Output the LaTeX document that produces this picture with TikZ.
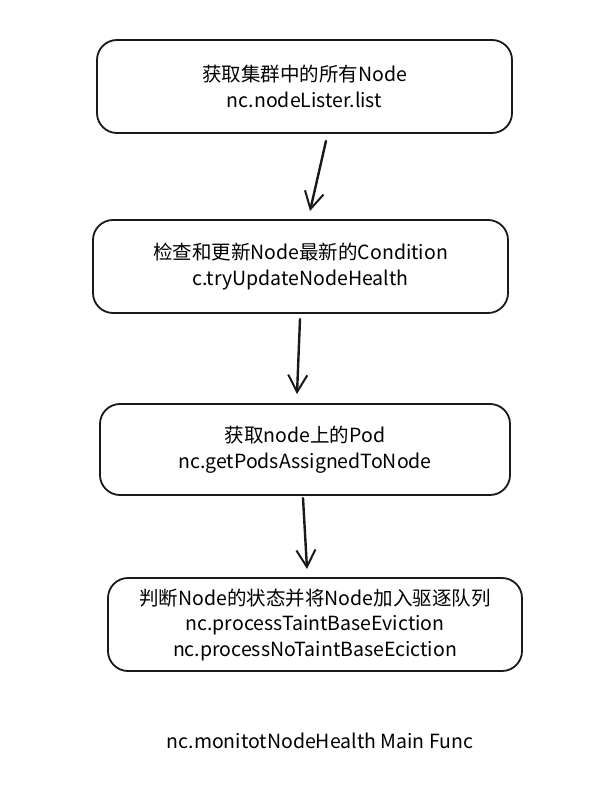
\documentclass[tikz,border=0pt]{standalone}
\usepackage{fontspec}
\setmainfont{Noto Sans CJK SC}
\usetikzlibrary{arrows.meta}
\tikzset{
  procbox/.style={draw=black!90, line width=1.8pt, rounded corners=20pt, fill=white,
    minimum width=#1, minimum height=93pt, align=center, inner sep=0pt,
    font=\fontsize{19.5}{25.5}\selectfont},
  flow/.style={draw=black!90, line width=2.4pt, line cap=round,
    -{Straight Barb[length=17pt,width=19pt,line width=2pt]}},
  caption/.style={font=\fontsize{19.5}{22}\selectfont}
}
\begin{document}
\begin{tikzpicture}[x=1pt,y=-1pt]
\useasboundingbox[fill=white] (0,0) rectangle (594,802);
\node[procbox=415pt] (b1) at (304.5,86.5) {获取集群中的所有Node\\nc.nodeLister.list};
\node[procbox=415pt] (b2) at (300.5,266.5) {检查和更新Node最新的Condition\\c.tryUpdateNodeHealth};
\node[procbox=410pt, minimum height=91pt] (b3) at (305,449.5) {获取node上的Pod\\nc.getPodsAssignedToNode};
\node[procbox=414pt] (b4) at (315,624.5) {判断Node的状态并将Node加入驱逐队列\\nc.processTaintBaseEviction\\nc.processNoTaintBaseEciction};
\node[caption] (cap) at (320,741) {nc.monitotNodeHealth Main Func};
\coordinate (a1s) at (326,141);
\coordinate (a1e) at (310,211);
\coordinate (a2s) at (300,319);
\coordinate (a2e) at (297,394);
\coordinate (a3s) at (303,498);
\coordinate (a3e) at (307,569);
\draw[flow] (a1s) -- (a1e);
\draw[flow] (a2s) -- (a2e);
\draw[flow] (a3s) -- (a3e);
\end{tikzpicture}
\end{document}
